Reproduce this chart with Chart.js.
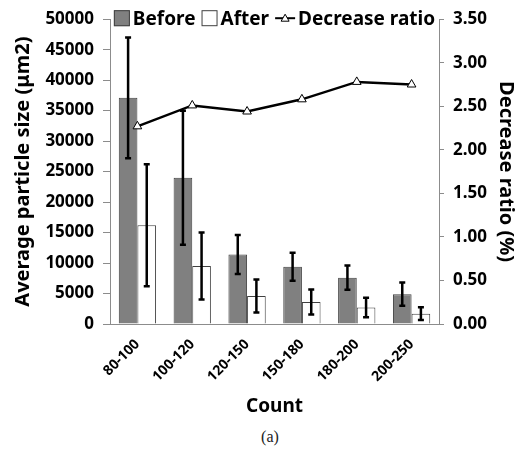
<!DOCTYPE html>
<html>
<head>
<meta charset="utf-8">
<script src="https://cdn.jsdelivr.net/npm/chart.js@4/dist/chart.umd.min.js"></script>
<style>
  body { margin: 0; background: #fff; }
  #wrap { position: relative; width: 528px; height: 420px; }
  #cap { width: 528px; text-align: center; font-family: "Liberation Serif", serif; font-size: 16px; color: #222; padding-left: 12px; box-sizing: border-box; margin-top: 8px; }
</style>
</head>
<body>
<div id="wrap"><canvas id="chart"></canvas></div>
<div id="cap">(a)</div>
<script>
// values
const categories = ["80-100", "100-120", "120-150", "150-180", "180-200", "200-250"];
const beforeVals = [37100, 24000, 11400, 9400, 7600, 4900];
const beforeErr = [9900, 11000, 3200, 2300, 2000, 1900];
const afterVals = [16200, 9500, 4600, 3600, 2700, 1700];
const afterErr = [10000, 5500, 2700, 2050, 1600, 1050];
const ratioVals = [2.27, 2.51, 2.44, 2.58, 2.78, 2.75];

const leftTicks = { min: 0, max: 50000, step: 5000 };
const rightTicks = { min: 0, max: 3.5, step: 0.5 };

const FONT = "'Noto Sans', 'Open Sans', sans-serif";
const AXIS_GREY = "#8c8c8c";

// error bars for the two bar datasets
const errorBars = {
  id: "errorBars",
  afterDatasetDraw(chart, args) {
    const ds = chart.data.datasets[args.index];
    if (!ds.errors) return;
    const y = chart.scales.y;
    const ctx = chart.ctx;
    ctx.save();
    ctx.strokeStyle = "#000";
    ctx.lineWidth = 2.5;
    args.meta.data.forEach((bar, i) => {
      const v = ds.data[i], e = ds.errors[i];
      const yTop = y.getPixelForValue(v + e);
      const yBot = y.getPixelForValue(v - e);
      const x = bar.x;
      ctx.beginPath();
      ctx.moveTo(x, yTop); ctx.lineTo(x, yBot);
      ctx.moveTo(x - 3, yTop); ctx.lineTo(x + 3, yTop);
      ctx.moveTo(x - 3, yBot); ctx.lineTo(x + 3, yBot);
      ctx.stroke();
    });
    ctx.restore();
  }
};

// legend in one row across the top of the plot, Excel style
const topLegend = {
  id: "topLegend",
  afterDraw(chart) {
    const ctx = chart.ctx;
    const area = chart.chartArea;
    const sets = chart.data.datasets;
    ctx.save();
    ctx.font = "bold 19px " + FONT;
    ctx.textBaseline = "middle";
    const box = 16, gap = 3, itemGap = 6;
    const widths = sets.map((d) => (d.type === "line" ? 20 : box) + gap + ctx.measureText(d.label).width);
    const total = widths.reduce((a, b) => a + b, 0) + itemGap * (sets.length - 1);
    let x = (area.left + area.right) / 2 - total / 2;
    const yc = area.top - 1;
    sets.forEach((d) => {
      if (d.type === "line") {
        ctx.strokeStyle = "#000";
        ctx.lineWidth = 2;
        ctx.beginPath(); ctx.moveTo(x, yc); ctx.lineTo(x + 20, yc); ctx.stroke();
        ctx.fillStyle = "#fff";
        ctx.lineWidth = 1;
        ctx.beginPath();
        ctx.moveTo(x + 10, yc - 4); ctx.lineTo(x + 14, yc + 3); ctx.lineTo(x + 6, yc + 3); ctx.closePath();
        ctx.fill(); ctx.stroke();
        x += 20 + gap;
      } else {
        ctx.fillStyle = d.backgroundColor;
        ctx.strokeStyle = d.borderColor;
        ctx.lineWidth = 1;
        ctx.fillRect(x, yc - box / 2, box, box);
        ctx.strokeRect(x + 0.5, yc - box / 2 + 0.5, box - 1, box - 1);
        x += box + gap;
      }
      ctx.fillStyle = "#000";
      ctx.fillText(d.label, x, yc + 1);
      x += ctx.measureText(d.label).width + itemGap;
    });
    ctx.restore();
  }
};

new Chart(document.getElementById("chart"), {
  type: "bar",
  data: {
    labels: categories,
    datasets: [
      {
        label: "Before",
        data: beforeVals,
        errors: beforeErr,
        backgroundColor: "#808080",
        borderColor: "#404040",
        borderWidth: 1,
        yAxisID: "y",
        order: 1,
      },
      {
        label: "After",
        data: afterVals,
        errors: afterErr,
        backgroundColor: "#ffffff",
        borderColor: "#404040",
        borderWidth: 1,
        yAxisID: "y",
        order: 1,
      },
      {
        type: "line",
        label: "Decrease ratio",
        data: ratioVals,
        borderColor: "#000",
        borderWidth: 2.5,
        pointStyle: "triangle",
        pointRadius: 5,
        pointBackgroundColor: "#fff",
        pointBorderColor: "#000",
        pointBorderWidth: 1,
        yAxisID: "y1",
        order: 0,
      },
    ],
  },
  options: {
    responsive: true,
    maintainAspectRatio: false,
    animation: false,
    layout: { padding: { top: 18, left: 0, right: 0, bottom: 0 } },
    datasets: { bar: { categoryPercentage: 0.68, barPercentage: 1 } },
    plugins: {
      tooltip: { enabled: false },
      legend: { display: false },
    },
    scales: {
      x: {
        grid: { display: false },
        border: { color: AXIS_GREY },
        ticks: {
          color: "#000",
          font: { family: FONT, size: 14, weight: "bold" },
          minRotation: 45,
          maxRotation: 45,
          padding: 4,
        },
        title: {
          display: true,
          text: "Count",
          color: "#000",
          font: { family: FONT, size: 19, weight: "bold" },
          padding: { top: 0, bottom: 2 },
        },
        afterFit: (s) => { s.height = 96; },
      },
      y: {
        position: "left",
        min: leftTicks.min,
        max: leftTicks.max,
        grid: { drawOnChartArea: false, color: AXIS_GREY, tickLength: 7 },
        border: { color: AXIS_GREY },
        ticks: {
          stepSize: leftTicks.step,
          color: "#000",
          font: { family: FONT, size: 17, weight: "bold" },
          padding: 9,
          callback: (v) => String(v),
        },
        title: {
          display: true,
          text: "Average particle size (μm2)",
          color: "#000",
          font: { family: FONT, size: 20, weight: "bold" },
          padding: { top: 11, bottom: 0 },
        },
        afterFit: (s) => { s.width = 110; },
      },
      y1: {
        position: "right",
        min: rightTicks.min,
        max: rightTicks.max,
        grid: { drawOnChartArea: false, color: AXIS_GREY, tickLength: 5 },
        border: { color: AXIS_GREY },
        ticks: {
          stepSize: rightTicks.step,
          color: "#000",
          font: { family: FONT, size: 17, weight: "bold" },
          padding: 9,
          callback: (v) => Number(v).toFixed(2),
        },
        title: {
          display: true,
          text: "Decrease ratio (%)",
          color: "#000",
          font: { family: FONT, size: 20, weight: "bold" },
          padding: { top: 10, bottom: 0 },
        },
        afterFit: (s) => { s.width = 89; },
      },
    },
  },
  plugins: [errorBars, topLegend],
});
</script>
</body>
</html>
